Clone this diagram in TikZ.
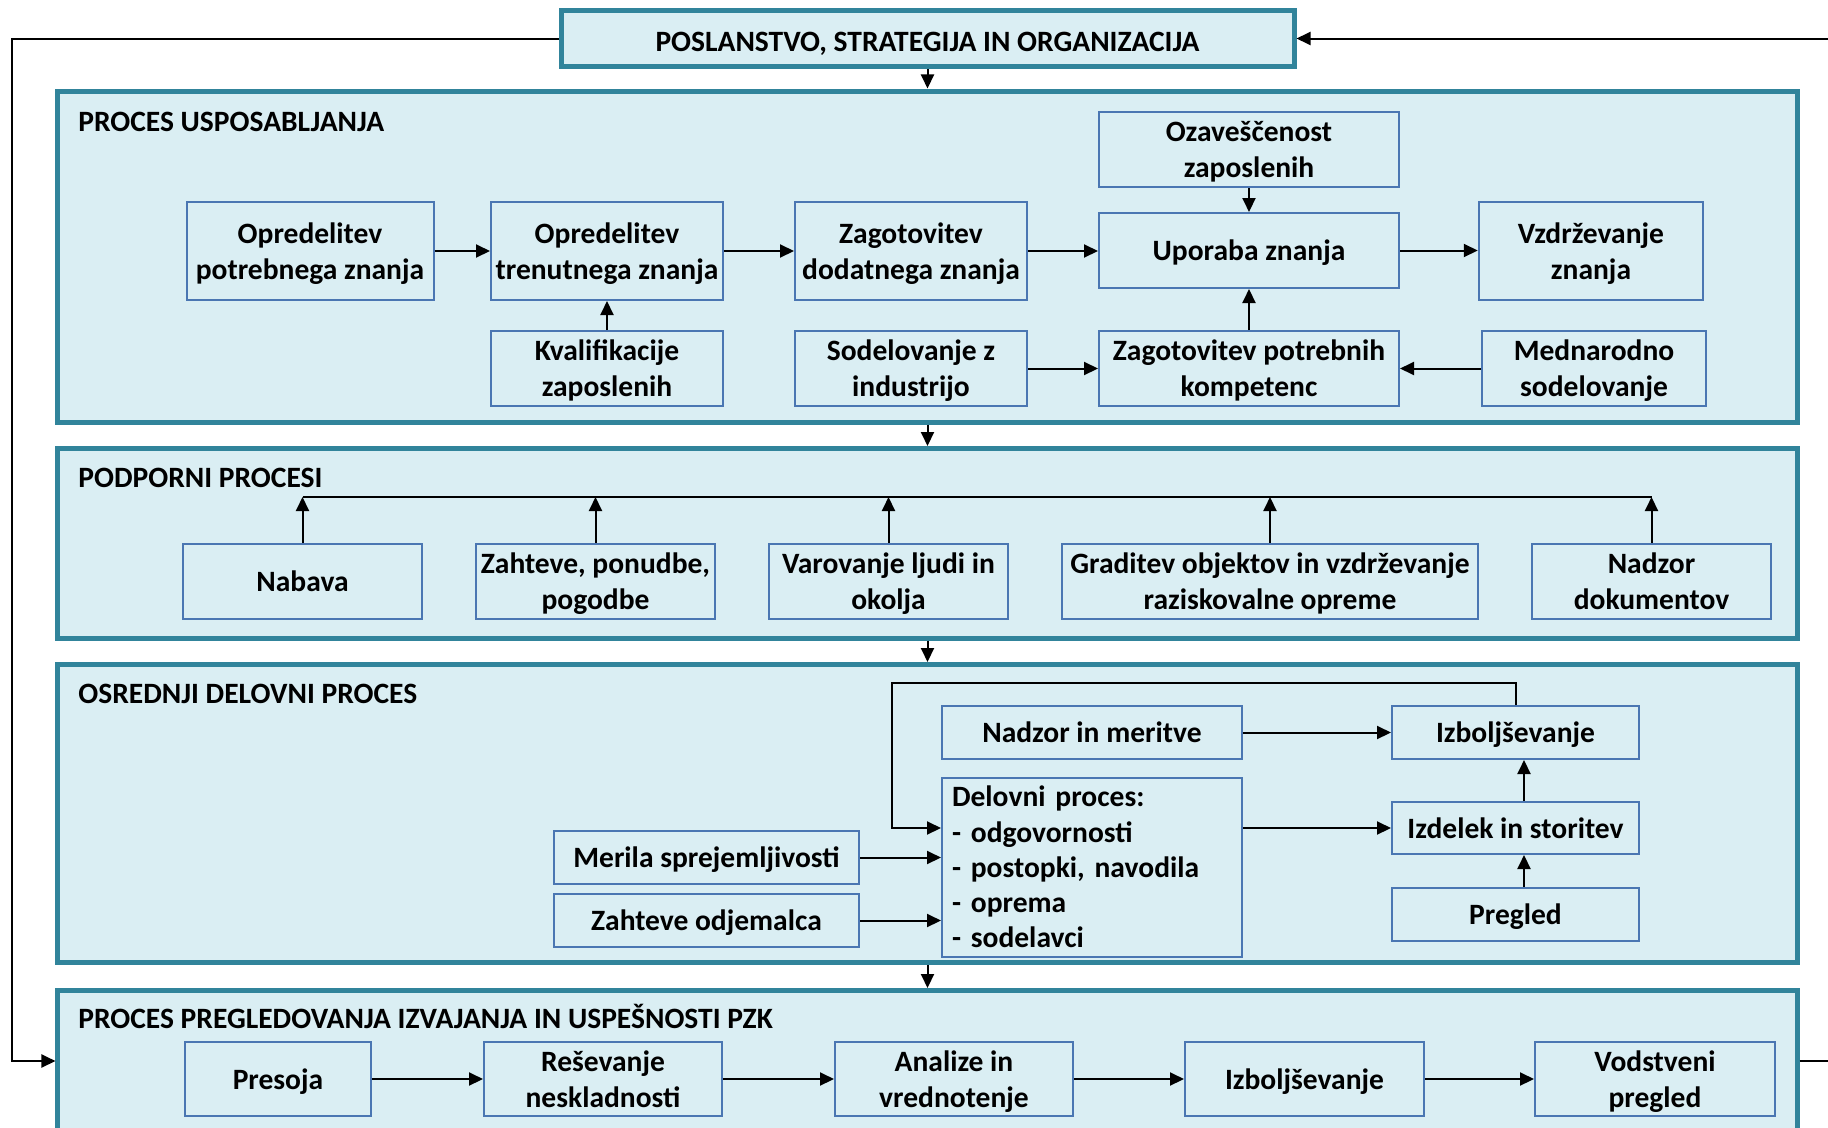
\documentclass[tikz,border=0pt]{standalone}
\usepackage{fontspec}
\setmainfont{Carlito}
\usepackage{tikz}
\usetikzlibrary{arrows.meta,calc}

\definecolor{panelline}{HTML}{31849B}
\definecolor{panelfill}{HTML}{DAEEF3}
\definecolor{boxline}{HTML}{4A76B2}

% line box of a word processor: ascent and descent of the font
\newcommand\linestrut{\rule[-0.269em]{0pt}{1.221em}}
% same for two lines, measured from the last baseline
\newcommand\tallstrut{\rule[-0.269em]{0pt}{2.441em}}

\begin{document}
\begin{tikzpicture}[x=0.2mm,y=-0.2mm]
	\clip (0,0) rectangle (1828,1127);
	\tikzstyle{every node} = [font=\bfseries\fontsize{16.8}{20.5}\selectfont, align=center, inner sep=0pt]
	\tikzstyle{panel} = [draw=panelline, fill=panelfill, line width=1mm, minimum width=347.8mm]
	\tikzstyle{frame} = [draw=boxline, fill=panelfill, line width=0.4mm]
	\tikzstyle{box} = [frame, execute at begin node=\linestrut, execute at end node=\linestrut]
	\tikzstyle{tbox} = [frame, execute at begin node=\tallstrut, execute at end node=\linestrut]
	\tikzstyle{title} = [anchor=base west]
	\tikzstyle{arr} = [line width=0.4mm, -{Triangle[length=2.8mm,width=2.6mm]}]

	% top box and the four process panels
	\node[panel, minimum width=146.6mm, minimum height=11.2mm] (org) at (927.5,38.5) {\rule[-0.32em]{0pt}{1.52em}POSLANSTVO, STRATEGIJA IN ORGANIZACIJA};
	\node[panel, minimum height=66.2mm] (p1) at (927.5,256.5) {};
	\node[panel, minimum height=37.9mm] (p2) at (927.5,543.25) {};
	\node[panel, minimum height=59.6mm] (p3) at (927.5,813.5) {};
	\node[panel, minimum height=29.9mm] (p4) at (927.5,1065.25) {};
	\node[title] (t1) at (78,131) {PROCES USPOSABLJANJA};
	\node[title] (t2) at (78,487) {PODPORNI PROCESI};
	\node[title] (t3) at (78,703) {OSREDNJI DELOVNI PROCES};
	\node[title] (t4) at (78,1028) {PROCES PREGLEDOVANJA IZVAJANJA IN USPEŠNOSTI PZK};

	\draw[arr] (org) -- (p1);
	\draw[arr] (p1) -- (p2);
	\draw[arr] (p2) -- (p3);
	\draw[arr] (p3) -- (p4);

	% usposabljanje
	\node[tbox, minimum width=49.4mm, minimum height=19.6mm] (need) at (310,251) {Opredelitev\\potrebnega znanja};
	\node[tbox, minimum width=46.4mm, minimum height=19.6mm] (curr) at (607,251) {Opredelitev\\trenutnega znanja};
	\node[tbox, minimum width=46.4mm, minimum height=19.6mm] (add) at (911,251) {Zagotovitev\\dodatnega znanja};
	\node[box, minimum width=60mm, minimum height=15mm] (use) at (1249,250.5) {Uporaba znanja};
	\node[tbox, minimum width=60mm, minimum height=15mm] (aware) at (1249,149.5) {Ozaveščenost\\zaposlenih};
	\node[tbox, minimum width=44.9mm, minimum height=19.6mm] (maint) at (1591,251) {Vzdrževanje\\znanja};
	\node[tbox, minimum width=46.4mm, minimum height=15mm] (qual) at (607,368.5) {Kvalifikacije\\zaposlenih};
	\node[tbox, minimum width=46.4mm, minimum height=15mm] (ind) at (911,368.5) {Sodelovanje z\\industrijo};
	\node[tbox, minimum width=60mm, minimum height=15mm] (comp) at (1249,368.5) {Zagotovitev potrebnih\\kompetenc};
	\node[tbox, minimum width=44.8mm, minimum height=15mm] (intl) at (1594,368.5) {Mednarodno\\sodelovanje};

	\draw[arr] (need) -- (curr);
	\draw[arr] (curr) -- (add);
	\draw[arr] (add.east) -- (add.east -| use.west);
	\draw[arr] (use.east) -- (use.east -| maint.west);
	\draw[arr] (aware) -- (use);
	\draw[arr] (qual) -- (curr);
	\draw[arr] (ind) -- (comp);
	\draw[arr] (intl) -- (comp);
	\draw[arr] (comp) -- (use);

	% podporni procesi
	\node[box, minimum width=47.8mm, minimum height=15.1mm] (nab) at (302.5,581.25) {Nabava};
	\node[tbox, minimum width=47.8mm, minimum height=15.1mm] (req) at (595.5,581.25) {Zahteve, ponudbe,\\pogodbe};
	\node[tbox, minimum width=47.8mm, minimum height=15.1mm] (safe) at (888.5,581.25) {Varovanje ljudi in\\okolja};
	\node[tbox, minimum width=83.2mm, minimum height=15.1mm] (build) at (1270,581.25) {Graditev objektov in vzdrževanje\\raziskovalne opreme};
	\node[tbox, minimum width=47.8mm, minimum height=15.1mm] (docs) at (1651.5,581.25) {Nadzor\\dokumentov};

	\coordinate (bus) at (0,497);
	\draw[line width=0.4mm] (nab.north |- bus) -- (docs.north |- bus);
	\foreach \n in {nab,req,safe,build,docs}
		\draw[arr] (\n.north) -- (\n.north |- bus);

	% osrednji delovni proces
	\node[box, minimum width=60mm, minimum height=10.6mm] (mon) at (1092,732.5) {Nadzor in meritve};
	\node[box, minimum width=49.4mm, minimum height=10.6mm] (imp) at (1515.5,732.5) {Izboljševanje};
	\node[box, font=\bfseries\fontsize{16.8}{20.1}\selectfont, align=left, text width=56mm, inner xsep=2mm, minimum height=35.9mm] (work) at (1092,867.25) {Delovni proces:\\- odgovornosti\\- postopki, navodila\\- oprema\\- sodelavci};
	\node[box, minimum width=49.4mm, minimum height=10.4mm] (prod) at (1515.5,828) {Izdelek in storitev};
	\node[box, minimum width=49.4mm, minimum height=10.6mm] (rev) at (1515.5,914) {Pregled};
	\node[box, minimum width=61mm, minimum height=10.6mm] (crit) at (706.5,857.5) {Merila sprejemljivosti};
	\node[box, minimum width=61mm, minimum height=10.6mm] (cust) at (706.5,920.5) {Zahteve odjemalca};

	\coordinate (lp) at (892,683);
	\draw[arr] (mon) -- (imp);
	\draw[arr] (work.east |- prod) -- (prod.west);
	\draw[arr] ([xshift=1.7mm]prod.north) -- ([xshift=1.7mm]imp.south);
	\draw[arr] ([xshift=1.7mm]rev.north) -- ([xshift=1.7mm]prod.south);
	\draw[arr] (crit.east) -- (crit.east -| work.west);
	\draw[arr] (cust.east) -- (cust.east -| work.west);
	\draw[arr] (imp.north) |- (lp) |- (work.west |- prod);

	% pregledovanje
	\node[box, minimum width=37.2mm, minimum height=14.8mm] (aud) at (278,1079) {Presoja};
	\node[tbox, minimum width=47.6mm, minimum height=14.8mm] (nc) at (603,1079) {Reševanje\\neskladnosti};
	\node[tbox, minimum width=47.6mm, minimum height=14.8mm] (anl) at (954,1079) {Analize in\\vrednotenje};
	\node[box, minimum width=47.8mm, minimum height=14.8mm] (imp2) at (1304.5,1079) {Izboljševanje};
	\node[tbox, minimum width=48mm, minimum height=14.8mm] (mgmt) at (1655,1079) {Vodstveni\\pregled};

	\draw[arr] (aud) -- (nc);
	\draw[arr] (nc) -- (anl);
	\draw[arr] (anl) -- (imp2);
	\draw[arr] (imp2) -- (mgmt);

	% feedback loop round the whole system
	\coordinate (fbl) at (12,1061);
	\coordinate (fbr) at (1840,1061);
	\draw[arr] (org.west) -| (fbl) -- (fbl -| p4.west);
	\draw[arr] (p4.east |- fbr) -- (fbr) |- (org.east);
\end{tikzpicture}
\end{document}
